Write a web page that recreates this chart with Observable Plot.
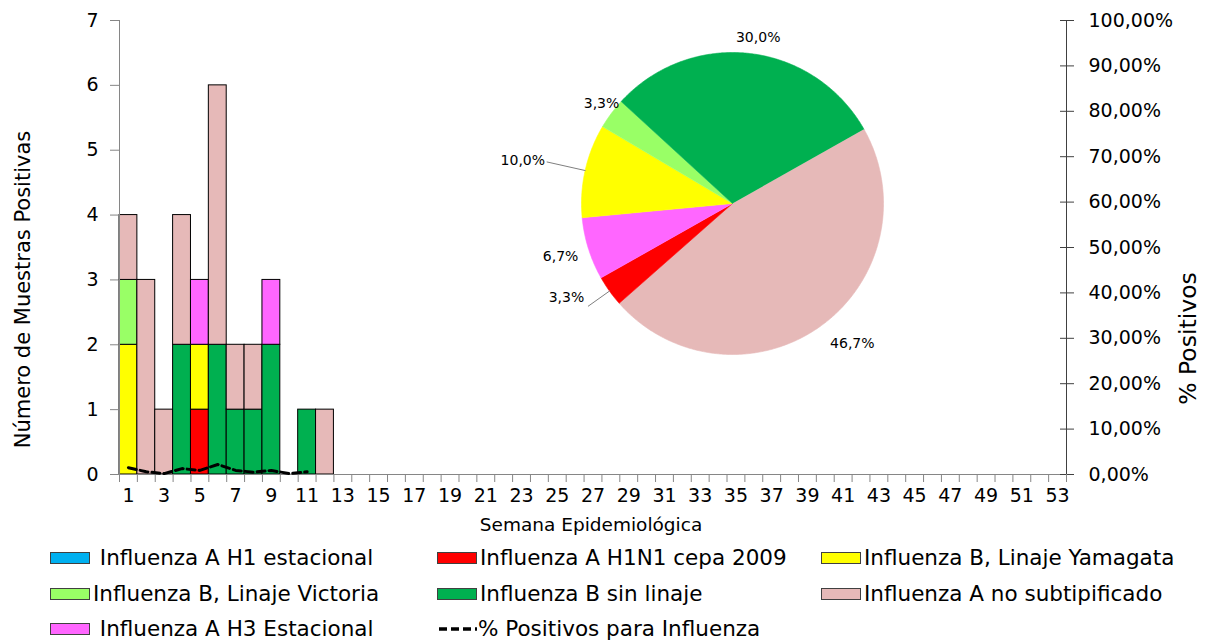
<!DOCTYPE html>
<html><head><meta charset="utf-8">
<script src="https://cdn.jsdelivr.net/npm/d3@7"></script>
<script src="https://cdn.jsdelivr.net/npm/@observablehq/plot@0.6"></script>
<style>
body{margin:0;background:#fff;font-family:"DejaVu Sans",sans-serif;}
#wrap{position:relative;width:1205px;height:641px;overflow:hidden;}
#main{position:absolute;left:0;top:0;}
#pie{position:absolute;left:481.7px;top:3.3px;}
#legend{position:absolute;left:0;top:537px;width:1205px;height:104px;}
.item{position:absolute;display:flex;align-items:center;font-size:21.5px;white-space:pre;color:#000;line-height:1;}
.sw{width:38px;height:10px;border:1px solid #404040;margin-right:3px;flex:none;}
.ln{width:40px;height:12px;margin-right:1px;flex:none;}
</style></head><body>
<div id="wrap"><div id="main"></div><div id="pie"></div><div id="legend"></div></div>
<script>
// ---------- DATA ----------
const weeks = [1,2,3,4,5,6,7,8,9,10,11,12,13,14,15,16,17,18,19,20,21,22,23,24,25,26,27,28,29,30,31,32,33,34,35,36,37,38,39,40,41,42,43,44,45,46,47,48,49,50,51,52,53];
const weekLabels = [1,3,5,7,9,11,13,15,17,19,21,23,25,27,29,31,33,35,37,39,41,43,45,47,49,51,53];
const series = [" Influenza A H1 estacional","Influenza A H1N1 cepa 2009","Influenza B, Linaje Yamagata","Influenza B, Linaje Victoria","Influenza B sin linaje","Influenza A no subtipificado"," Influenza A H3 Estacional"];
const seriesColors = ["#00B0F0","#FF0000","#FFFF00","#99FF66","#00B050","#E6B9B8","#FF66FF"];
// counts per week (weeks 1..12; later weeks have no positive samples)
const h1Estacional = [0,0,0,0,0,0,0,0,0,0,0,0];
const h1n1Cepa2009 = [0,0,0,0,1,0,0,0,0,0,0,0];
const bYamagata    = [2,0,0,0,1,0,0,0,0,0,0,0];
const bVictoria    = [1,0,0,0,0,0,0,0,0,0,0,0];
const bSinLinaje   = [0,0,0,2,0,2,1,1,2,0,1,0];
const aNoSubtip    = [1,3,1,2,0,4,1,1,0,0,0,1];
const h3Estacional = [0,0,0,0,1,0,0,0,1,0,0,0];
// % positivos para influenza (weeks 1..11)
const pctPositivos = [1.5,0.6,0.2,1.3,0.9,2.2,0.9,0.5,0.9,0.2,0.6];
const pctTicks = [0,10,20,30,40,50,60,70,80,90,100];
const countTicks = [0,1,2,3,4,5,6,7];
// pie (share of total positives)
const pieCategories = ["Influenza A no subtipificado","Influenza A H1N1 cepa 2009"," Influenza A H3 Estacional","Influenza B, Linaje Yamagata","Influenza B, Linaje Victoria","Influenza B sin linaje"];
const pieValues = [46.7,3.3,6.7,10.0,3.3,30.0];

// ---------- LAYOUT ----------
const Y_MAX = 7;
const seriesArrays = [h1Estacional,h1n1Cepa2009,bYamagata,bVictoria,bSinLinaje,aNoSubtip,h3Estacional];
const barData = [];
weeks.forEach((w,i)=>seriesArrays.forEach((arr,s)=>{ if(i<arr.length && arr[i]>0) barData.push({week:w,n:arr[i],s:series[s]}); }));
const lineData = pctPositivos.map((p,i)=>({week:weeks[i],pct:p}));
const fmtPct = d => (d/Y_MAX*100).toFixed(2).replace(".",",")+"%";
const pctPos = pctTicks.map(p=>p/100*Y_MAX);

const main = Plot.plot({
  width:1205, height:537,
  marginLeft:119, marginRight:139, marginTop:20, marginBottom:63,
  style:{fontFamily:"DejaVu Sans", fontSize:"19px", background:"transparent"},
  x:{domain:[1,54]},
  y:{domain:[0,Y_MAX]},
  color:{domain:series, range:seriesColors},
  marks:[
    Plot.rectY(barData,{x1:"week",x2:d=>d.week+1,y:"n",fill:"s",stroke:"black",strokeWidth:1}),
    Plot.ruleY([0],{stroke:"#868686"}),
    Plot.ruleX([1],{stroke:"#868686"}),
    Plot.ruleX([54],{stroke:"#404040"}),
    Plot.axisY({anchor:"left",ticks:countTicks,tickFormat:d=>String(d),tickSize:9,tickPadding:12,fontSize:19,stroke:"#868686",fill:"black",label:null}),
    Plot.axisY({anchor:"right",ticks:pctPos,tickFormat:fmtPct,tickSize:7,tickPadding:15,fontSize:19,stroke:"#404040",fill:"black",label:null}),
    Plot.axisY({anchor:"right",ticks:pctPos,tickFormat:()=>"",tickSize:7,dx:-7,stroke:"#404040",label:null}),
    Plot.axisX({anchor:"bottom",ticks:weeks.concat([54]),tickSize:8,tickFormat:()=>"",stroke:"#868686",label:null}),
    Plot.axisX({anchor:"bottom",ticks:weekLabels.map(w=>w+0.5),tickSize:0,tickPadding:14,tickFormat:d=>String(d-0.5),fontSize:19,fill:"black",label:null}),
    Plot.line(lineData,{x:d=>d.week+0.5,y:d=>d.pct/100*Y_MAX,stroke:"black",strokeWidth:3,strokeDasharray:"8,4"}),
    Plot.text(["Número de Muestras Positivas"],{frameAnchor:"left",textAnchor:"middle",dx:-96,dy:42,rotate:-90,fontSize:21,fill:"black"}),
    Plot.text(["% Positivos"],{frameAnchor:"right",textAnchor:"middle",dx:122,dy:91,rotate:-90,fontSize:23.5,fill:"black"}),
    Plot.text(["Semana Epidemiológica"],{frameAnchor:"bottom",dx:-2,dy:56,fontSize:18.5,fill:"black"})
  ]
});
document.getElementById("main").appendChild(main);

// ---------- PIE ----------
const R = 151;
const deg = Math.PI/180;
const arcs = d3.pie().sort(null).startAngle(60.5*deg).endAngle(420.5*deg)(pieValues);
const colorOf = c => seriesColors[series.indexOf(c)];
const slicePts = [];
arcs.forEach((a,i)=>{
  const cat = pieCategories[i];
  slicePts.push({cat,x:0,y:0});
  const n = Math.max(2,Math.ceil((a.endAngle-a.startAngle)/(0.5*deg)));
  for(let k=0;k<=n;k++){
    const t = a.startAngle+(a.endAngle-a.startAngle)*k/n;
    slicePts.push({cat,x:R*Math.sin(t),y:R*Math.cos(t)});
  }
});
// label placement (radius px, angle nudge deg, leader end radius or 0)
const labelLayout = [[184,-5.2,0],[191,5.8,177],[180,0.2,0],[214,-1.1,190],[165,0.9,0],[168,2.3,0]];
const labels = arcs.map((a,i)=>{
  const mid = (a.startAngle+a.endAngle)/2;
  const [r,nudge] = labelLayout[i];
  const t = mid+nudge*deg;
  return {x:r*Math.sin(t),y:r*Math.cos(t),text:pieValues[i].toFixed(1).replace(".",",")+"%"};
});
const leaders = [];
arcs.forEach((a,i)=>{
  const le = labelLayout[i][2];
  if(!le) return;
  const mid = (a.startAngle+a.endAngle)/2;
  leaders.push({k:i,x:R*Math.sin(mid),y:R*Math.cos(mid)});
  leaders.push({k:i,x:le*Math.sin(mid),y:le*Math.cos(mid)});
});
const pie = Plot.plot({
  width:500,height:400,margin:0,
  style:{fontFamily:"DejaVu Sans",background:"transparent",overflow:"visible"},
  x:{domain:[-250,250],axis:null},
  y:{domain:[-200,200],axis:null},
  color:{type:"identity"},
  marks:[
    Plot.line(slicePts,{x:"x",y:"y",z:"cat",fill:d=>colorOf(d.cat),stroke:d=>colorOf(d.cat),strokeWidth:0.6}),
    Plot.line(leaders,{x:"x",y:"y",z:"k",stroke:"#7f7f7f",strokeWidth:1}),
    Plot.text(labels,{x:"x",y:"y",text:"text",fontSize:14,fill:"black"})
  ]
});
document.getElementById("pie").appendChild(pie);

// ---------- LEGEND ----------
const legend = document.getElementById("legend");
const colX = [50,437,821];
const rowY = [21,57,92];
const items = series.map((s,i)=>({label:s,color:seriesColors[i]}));
items.push({label:"% Positivos para Influenza",line:true});
items.forEach((it,i)=>{
  const col = i%3, row = Math.floor(i/3);
  const div = document.createElement("div");
  div.className="item";
  div.style.left = colX[col]+"px";
  div.style.top = (rowY[row]-12)+"px";
  div.style.height="24px";
  if(it.line){
    div.innerHTML = '<svg class="ln" width="40" height="12"><line x1="2" y1="6" x2="40" y2="6" stroke="black" stroke-width="3.5" stroke-dasharray="8,4"/></svg>';
  } else {
    const sw = document.createElement("div");
    sw.className="sw"; sw.style.background=it.color;
    div.appendChild(sw);
  }
  const sp = document.createElement("span");
  sp.textContent = it.label;
  div.appendChild(sp);
  legend.appendChild(div);
});
</script>
</body></html>
